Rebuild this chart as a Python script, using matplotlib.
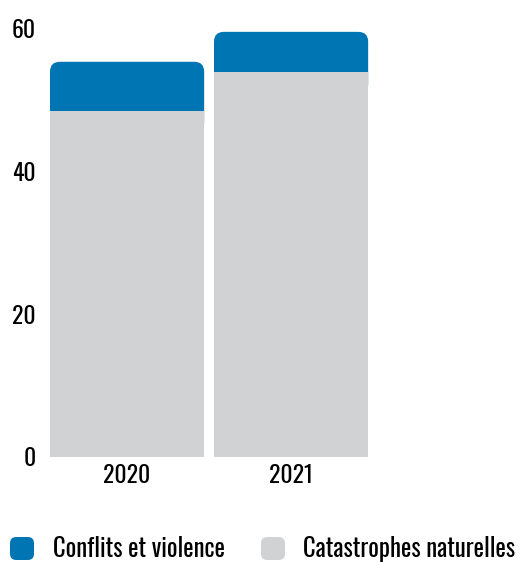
import matplotlib
matplotlib.use("Agg")
import matplotlib.pyplot as plt
from matplotlib.patches import FancyBboxPatch

plt.rcParams['font.family'] = ['Oswald', 'DejaVu Sans']

# data (millions)
years = ["2020", "2021"]
catastrophes = [48.5, 53.9]
conflits = [6.9, 5.7]
yticks = [0, 20, 40, 60]

blue = "#0075B4"
grey = "#D1D2D4"

W, H = 520, 563
fig = plt.figure(figsize=(W / 100, H / 100), dpi=100)
ax = fig.add_axes([50 / W, (H - 456.7) / H, (W - 50) / W, (456.7 - 29) / H])

x = list(range(len(years)))
bw = 0.94
ax.bar(x, catastrophes, width=bw, color=grey, zorder=3)

# blue tops with rounded corners
tops = ax.bar(x, conflits, bottom=catastrophes, width=bw, color=blue)
for r in list(tops.patches):
    bx, by, w, h = r.get_x(), r.get_y(), r.get_width(), r.get_height()
    r.remove()
    ax.add_patch(FancyBboxPatch((bx, by - 3), w, h + 3,
                                boxstyle="round,pad=0,rounding_size=0.06",
                                mutation_aspect=23, fc=blue, ec="none", zorder=2))

ax.set_xlim(-bw / 2, (W - 50) / 164 - bw / 2)
ax.set_ylim(0, 60)
ax.set_yticks(yticks)
ax.set_xticks(x)
ax.set_xticklabels(years)
ax.tick_params(length=0, labelsize=17)
ax.tick_params(axis="y", pad=10)
ax.tick_params(axis="x", pad=5)
for s in ax.spines.values():
    s.set_visible(False)

# legend
items = [("Conflits et violence", blue, 10, 53), ("Catastrophes naturelles", grey, 261, 303)]
for label, c, mx, tx in items:
    fig.patches.append(FancyBboxPatch((mx / W, (H - 560) / H), 24 / W, 23 / H,
                                      boxstyle="round,pad=0,rounding_size=0.012",
                                      mutation_aspect=W / H, fc=c, ec="none",
                                      transform=fig.transFigure, figure=fig))
    fig.text(tx / W, (H - 549) / H, label, fontsize=17.8, va="center", ha="left")

fig.savefig("out.png", dpi=100)
